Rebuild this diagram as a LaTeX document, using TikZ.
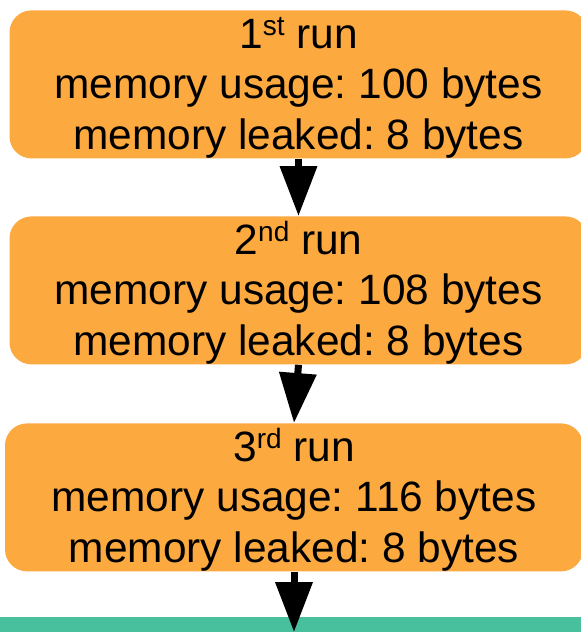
\documentclass[tikz,border=0pt]{standalone}
\usepackage{fontspec}
\setmainfont{Liberation Sans}
\usetikzlibrary{arrows.meta}
\definecolor{runorange}{RGB}{252,169,64}
\definecolor{barteal}{RGB}{72,191,157}
\newcommand{\ordsup}[1]{\raisebox{6.5pt}{\fontsize{14}{14}\selectfont #1}}
\frenchspacing

\begin{document}
\begin{tikzpicture}[x=0.5pt,y=-0.5pt,
    runbox/.style={fill=runorange,rounded corners=11pt,anchor=north,align=center,
      minimum width=289pt,inner xsep=0pt,inner ysep=0pt,text height=69.5pt,text depth=4.5pt,
      font=\fontsize{21.2}{25.25}\selectfont},
    flow/.style={line width=3.5pt,-{Triangle[width=18pt,length=25pt]}}]
    \useasboundingbox (0,0) rectangle (581,632);

    % runs
    \node[runbox] (run1) at (298.5,10)
      {1\ordsup{st} run\\memory usage: 100 bytes\\memory leaked: 8 bytes};
    \node[runbox] (run2) at (298.5,216)
      {2\ordsup{nd} run\\memory usage: 108 bytes\\memory leaked: 8 bytes};
    \node[runbox] (run3) at (294,423)
      {3\ordsup{rd} run\\memory usage: 116 bytes\\memory leaked: 8 bytes};

    % next step, cut by the border
    \node[fill=barteal,anchor=north,inner sep=0pt,minimum width=320pt,minimum height=20pt] (bar) at (290,617) {};
    \coordinate (barend) at (294,632);

    % arrows
    \draw[flow] (run1.south) -- (run2.north);
    \draw[flow] (run2.south) -- (run3.north);
    \draw[flow] (run3.south) -- (barend);
\end{tikzpicture}
\end{document}
